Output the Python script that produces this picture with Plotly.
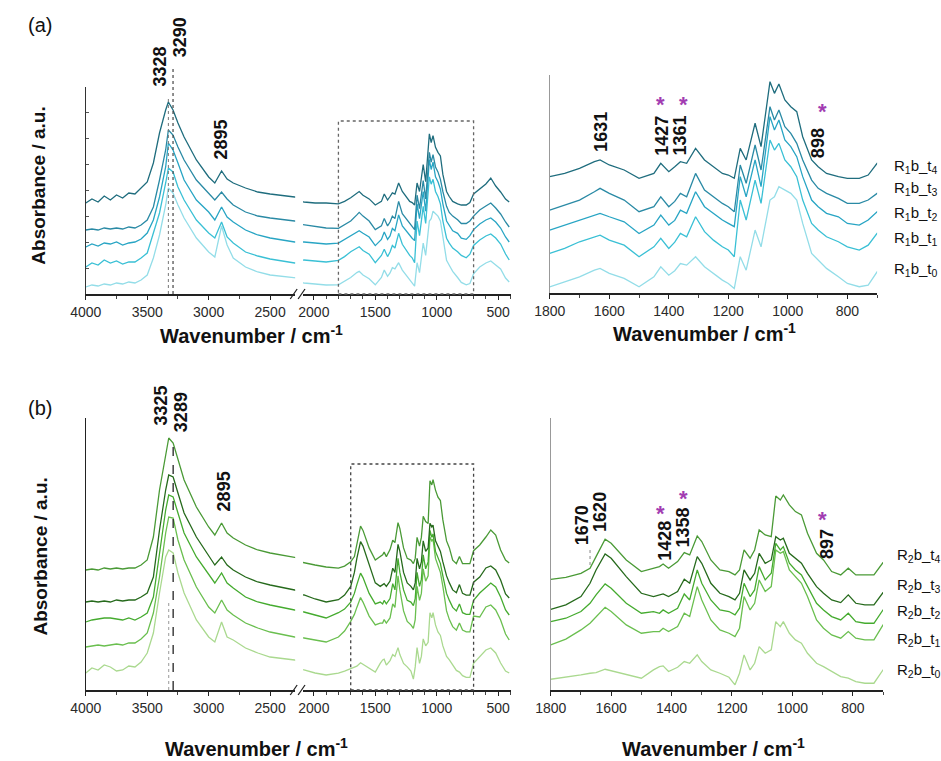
import plotly.graph_objects as go

W, H = 941, 761
FONT = "Liberation Sans, Arial, sans-serif"


def fx(p):
    return p / W


def fy(p):
    return 1 - p / H


# ---------------- wavenumber grids ----------------
WN_A_HI = [4000, 3950, 3900, 3850, 3800, 3750, 3700, 3650, 3600, 3550, 3500, 3450, 3400, 3350,
           3328, 3290, 3250, 3200, 3100, 3000, 2950, 2895, 2850, 2800, 2700, 2600, 2500, 2300,
           2080, 1990, 1900]
WN_B_HI = [4000, 3950, 3900, 3850, 3800, 3750, 3700, 3650, 3600, 3550, 3500, 3450, 3400, 3350,
           3325, 3289, 3250, 3200, 3100, 3000, 2950, 2895, 2850, 2800, 2700, 2600, 2500, 2300,
           2080, 1990, 1900]
WN_A_FP = [1800, 1750, 1700, 1650, 1631, 1600, 1550, 1500, 1450, 1427, 1400, 1380, 1361, 1340,
           1310, 1280, 1250, 1220, 1200, 1180, 1160, 1140, 1110, 1090, 1060, 1045, 1030, 1010,
           990, 970, 950, 920, 898, 870, 830, 800, 760, 730, 700]
WN_B_FP = [1800, 1750, 1700, 1670, 1650, 1620, 1600, 1550, 1500, 1460, 1440, 1428, 1410, 1380,
           1358, 1340, 1315, 1300, 1270, 1240, 1210, 1190, 1175, 1160, 1140, 1125, 1110, 1090,
           1070, 1055, 1040, 1030, 1010, 990, 970, 950, 920, 897, 870, 840, 815, 790, 760, 730, 700]
WN_TAIL = [650, 600, 560, 520, 480, 440, 410]

# ---------------- (a) R1b spectra (stacked, a.u.) ----------------
A_T4_HI = [91, 95, 92, 98, 94, 99, 96, 101, 100, 106, 112, 131, 161, 184, 192, 184, 171, 157, 134, 117,
           111, 123, 115, 111, 106, 102, 100, 97, 92, 91, 91]
A_T3_HI = [64, 65, 64, 66, 65, 66, 65, 67, 66, 69, 74, 87, 114, 144, 164, 159, 147, 134, 114, 101,
           94, 102, 95, 89, 82, 78, 76, 73, 69, 67, 66]
A_T2_HI = [47, 50, 48, 51, 50, 52, 49, 51, 52, 55, 61, 74, 97, 127, 151, 144, 131, 114, 94, 82,
           74, 87, 77, 72, 64, 59, 56, 52, 52, 51, 50]
A_T1_HI = [27, 31, 29, 34, 31, 33, 30, 32, 32, 36, 41, 61, 81, 111, 126, 122, 107, 94, 74, 61,
           56, 72, 57, 51, 42, 38, 35, 31, 34, 33, 32]
A_T0_HI = [7, 9, 8, 10, 9, 11, 10, 12, 11, 14, 19, 36, 59, 89, 106, 101, 89, 76, 56, 42,
           37, 68, 49, 36, 27, 22, 19, 16, 11, 10, 9]

A_T4_FP = [90.2, 92.6, 96.3, 101.2, 102.5, 98.8, 95.1, 89.0, 92.6, 100.0, 93.9, 97.5, 101.2, 100.0,
           111.0, 102.5, 97.5, 92.6, 91.4, 89.0, 111.0, 102.5, 129.5, 112.3, 160.1, 151.5, 158.4,
           146.6, 141.7, 138.0, 119.6, 102.5, 97.5, 92.6, 90.2, 89.0, 89.0, 91.4, 100.0]
A_T3_FP = [65.6, 69.3, 73.0, 79.1, 81.6, 77.9, 73.0, 64.4, 68.1, 75.4, 68.1, 72.0, 77.9, 75.4,
           92.6, 80.4, 75.4, 70.5, 68.1, 64.4, 98.8, 85.3, 113.5, 95.1, 141.7, 131.9, 139.3,
           127.0, 122.1, 114.7, 102.5, 87.7, 81.6, 77.9, 74.2, 70.5, 70.5, 73.0, 77.9]
A_T2_FP = [50.9, 54.6, 58.3, 61.9, 63.2, 60.7, 57.0, 48.4, 54.6, 61.9, 54.6, 58.0, 65.6, 63.2,
           79.1, 68.1, 63.2, 58.3, 55.8, 53.4, 90.2, 75.4, 102.5, 82.8, 134.4, 124.5, 131.9,
           117.2, 112.3, 104.9, 90.2, 73.0, 68.1, 63.2, 60.7, 55.8, 54.6, 58.3, 64.4]
A_T1_FP = [33.7, 37.4, 42.3, 46.0, 47.2, 43.5, 39.8, 31.3, 38.6, 44.8, 37.4, 42.0, 48.5, 46.0,
           60.7, 49.7, 43.5, 38.6, 36.2, 31.3, 73.0, 58.3, 87.7, 70.5, 117.2, 109.8, 114.7,
           102.5, 97.5, 90.2, 73.0, 55.8, 50.9, 46.0, 42.3, 38.6, 36.2, 39.8, 48.5]
A_T0_FP = [9.2, 12.8, 16.5, 21.4, 22.7, 19.0, 15.3, 9.2, 16.5, 23.9, 17.7, 21.0, 26.3, 25.1,
           31.3, 23.9, 19.0, 14.1, 11.6, 7.9, 31.3, 21.4, 50.9, 38.6, 73.0, 75.4, 82.8,
           80.4, 77.9, 73.0, 55.8, 33.7, 28.8, 22.7, 16.5, 11.6, 9.2, 10.4, 20.2]

A_T4_TAIL = [105, 110, 116, 108, 102, 95, 92]
A_T3_TAIL = [84, 88, 91, 86, 80, 72, 67]
A_T2_TAIL = [70, 74, 76, 72, 66, 57, 52]
A_T1_TAIL = [54, 58, 60, 56, 50, 40, 34]
A_T0_TAIL = [27, 31, 33, 29, 25, 16, 12]

# ---------------- (b) R2b spectra (stacked, a.u.) ----------------
B_T4_HI = [120, 121, 120, 122, 121, 122, 121, 122, 122, 125, 130, 153, 200, 237, 252, 247, 230, 210, 183, 163,
           155, 167, 157, 152, 145, 140, 137, 133, 127, 125, 123]
B_T3_HI = [88, 89, 88, 89, 88, 90, 89, 90, 90, 93, 97, 113, 160, 200, 215, 213, 197, 177, 153, 135,
           125, 133, 125, 120, 113, 108, 105, 100, 95, 91, 88]
B_T2_HI = [68, 70, 71, 72, 72, 71, 70, 72, 70, 73, 77, 93, 137, 180, 195, 193, 177, 157, 133, 115,
           107, 117, 107, 102, 93, 88, 85, 80, 78, 75, 72]
B_T1_HI = [43, 44, 45, 44, 45, 46, 45, 47, 47, 51, 57, 77, 113, 157, 173, 172, 150, 130, 103, 83,
           77, 90, 80, 75, 67, 62, 58, 53, 52, 50, 48]
B_T0_HI = [17, 22, 20, 25, 23, 19, 20, 24, 23, 28, 37, 57, 97, 133, 140, 137, 117, 97, 70, 53,
           48, 68, 53, 50, 42, 37, 33, 30, 20, 17, 15]

B_T4_FP = [121.8, 123.9, 128.1, 133.4, 145.6, 163.8, 159.6, 142.1, 129.9, 133.4, 135.1, 137.9, 133.4,
           140.4, 149.8, 147.4, 167.3, 161.4, 142.1, 131.6, 129.9, 126.4, 131.6, 152.6, 143.9, 152.6,
           173.6, 168.4, 166.6, 209.3, 205.1, 210.4, 199.9, 192.9, 189.4, 170.1, 149.1, 142.1, 129.9,
           126.4, 133.4, 126.4, 126.4, 126.4, 139.3]
B_T3_FP = [90.3, 94.9, 103.6, 117.6, 131.6, 148.4, 143.9, 124.6, 107.1, 103.6, 105.4, 106.4, 103.6,
           108.9, 121.8, 117.6, 145.6, 138.6, 117.6, 107.1, 103.6, 100.1, 107.1, 131.6, 121.1, 128.1,
           149.1, 138.6, 142.1, 166.6, 163.1, 164.9, 149.1, 143.9, 138.6, 128.1, 114.1, 107.1, 100.1,
           97.3, 105.4, 96.6, 94.9, 94.9, 107.8]
B_T2_FP = [77.3, 80.9, 87.9, 96.6, 105.4, 116.9, 112.4, 96.6, 86.1, 87.9, 86.1, 89.6, 86.1,
           91.4, 106.4, 100.1, 131.6, 117.6, 100.1, 89.6, 87.9, 84.4, 91.4, 117.6, 103.6, 110.6,
           135.1, 121.1, 128.1, 159.6, 152.6, 156.1, 138.6, 131.6, 126.4, 114.1, 96.6, 89.6, 82.6,
           79.1, 86.1, 77.3, 75.6, 75.6, 89.6]
B_T1_FP = [53.0, 59.0, 68.6, 75.6, 82.6, 92.4, 87.9, 73.9, 65.1, 66.9, 66.9, 70.4, 66.9,
           72.1, 86.1, 82.6, 114.1, 100.1, 79.1, 68.6, 65.1, 61.6, 70.4, 103.6, 89.6, 96.6,
           121.1, 108.9, 114.1, 152.6, 149.1, 150.9, 131.6, 124.6, 117.6, 103.6, 79.1, 70.4, 63.4,
           59.9, 66.9, 59.9, 58.1, 58.1, 73.9]
B_T0_FP = [16.8, 18.9, 21.4, 23.1, 23.8, 27.3, 25.6, 21.4, 17.9, 26.6, 30.1, 30.8, 24.9,
           29.4, 35.4, 33.6, 42.4, 35.4, 26.6, 23.1, 18.9, 10.9, 23.1, 42.4, 26.6, 33.6,
           51.1, 44.1, 47.6, 77.3, 72.1, 77.3, 65.1, 58.1, 54.6, 44.1, 33.6, 30.1, 24.9,
           19.6, 17.9, 14.4, 12.6, 12.6, 26.6]

B_T4_TAIL = [145, 153, 160, 155, 140, 130, 127]
B_T3_TAIL = [113, 122, 124, 120, 110, 96, 92]
B_T2_TAIL = [97, 103, 107, 103, 93, 80, 75]
B_T1_TAIL = [73, 83, 85, 80, 70, 56, 50]
B_T0_TAIL = [33, 40, 42, 37, 27, 19, 17]

SAMPLES = ["t4", "t3", "t2", "t1", "t0"]
A_COLORS = ["#1f6d7e", "#2a8aa5", "#28a5c4", "#3ac0d5", "#93dde8"]
B_COLORS = ["#4a9a36", "#266a1c", "#45ab2f", "#6abf4f", "#aad98f"]
A_LABELS = ["R<sub>1</sub>b_t<sub>4</sub>", "R<sub>1</sub>b_t<sub>3</sub>", "R<sub>1</sub>b_t<sub>2</sub>",
            "R<sub>1</sub>b_t<sub>1</sub>", "R<sub>1</sub>b_t<sub>0</sub>"]
B_LABELS = ["R<sub>2</sub>b_t<sub>4</sub>", "R<sub>2</sub>b_t<sub>3</sub>", "R<sub>2</sub>b_t<sub>2</sub>",
            "R<sub>2</sub>b_t<sub>1</sub>", "R<sub>2</sub>b_t<sub>0</sub>"]

A_SPECTRA = [(A_T4_HI, A_T4_FP, A_T4_TAIL), (A_T3_HI, A_T3_FP, A_T3_TAIL), (A_T2_HI, A_T2_FP, A_T2_TAIL),
             (A_T1_HI, A_T1_FP, A_T1_TAIL), (A_T0_HI, A_T0_FP, A_T0_TAIL)]
B_SPECTRA = [(B_T4_HI, B_T4_FP, B_T4_TAIL), (B_T3_HI, B_T3_FP, B_T3_TAIL), (B_T2_HI, B_T2_FP, B_T2_TAIL),
             (B_T1_HI, B_T1_FP, B_T1_TAIL), (B_T0_HI, B_T0_FP, B_T0_TAIL)]

for hi, fp, tail in A_SPECTRA:
    assert len(hi) == len(WN_A_HI) and len(fp) == len(WN_A_FP) and len(tail) == len(WN_TAIL)
for hi, fp, tail in B_SPECTRA:
    assert len(hi) == len(WN_B_HI) and len(fp) == len(WN_B_FP) and len(tail) == len(WN_TAIL)

fig = go.Figure()


def add_set(spectra, wn_hi, wn_fp, colors, axes):
    wn = wn_hi + wn_fp + WN_TAIL
    for (hi, fp, tail), col in zip(reversed(spectra), reversed(colors)):
        vals = hi + fp + tail
        for xa, ya in axes:
            fig.add_trace(go.Scatter(x=wn, y=vals, mode="lines",
                                     line=dict(color=col, width=1.3),
                                     xaxis=xa, yaxis=ya, showlegend=False, hoverinfo="skip"))


add_set(A_SPECTRA, WN_A_HI, WN_A_FP, A_COLORS, [("x", "y"), ("x2", "y"), ("x3", "y2")])
add_set(B_SPECTRA, WN_B_HI, WN_B_FP, B_COLORS, [("x4", "y3"), ("x5", "y3"), ("x6", "y4")])

tickfont = dict(size=14, color="#2a2a2a", family=FONT)


def xax(dom, rng, anchor, dtick, minor):
    return dict(domain=[fx(dom[0]), fx(dom[1])], range=rng, anchor=anchor, showgrid=False,
                zeroline=False, showline=True, linecolor="#222", linewidth=1.5,
                ticks="outside", ticklen=4, tickwidth=1.3, tickcolor="#222",
                tick0=0, dtick=dtick, tickfont=tickfont,
                minor=dict(ticks="outside", ticklen=3, dtick=minor, tickcolor="#444", tickwidth=1),
                fixedrange=True)


def yax(top, bot, rng, anchor, linecolor, ticks=""):
    return dict(domain=[fy(bot), fy(top)], range=rng, anchor=anchor, showgrid=False,
                zeroline=False, showline=True, linecolor=linecolor, linewidth=1.3,
                showticklabels=False, ticks=ticks, ticklen=3, tickcolor="#555", dtick=26,
                fixedrange=True)


fig.update_layout(
    width=W, height=H, margin=dict(l=0, r=0, t=0, b=0),
    paper_bgcolor="white", plot_bgcolor="white",
    font=dict(family=FONT, color="#111"),
    xaxis=xax((71, 284), [4000, 2296], "y", 500, 250),
    xaxis2=xax((292, 504), [2088, 392], "y", 500, 100),
    xaxis3=xax((543, 876), [1800, 700], "y2", 200, 100),
    xaxis4=xax((71, 284), [4000, 2296], "y3", 500, 250),
    xaxis5=xax((292, 504), [2088, 392], "y3", 500, 100),
    xaxis6=xax((544, 882), [1800, 700], "y4", 200, 100),
    yaxis=yax(87, 294, [0, 207], "x", "#333", "inside"),
    yaxis2=yax(75, 293, [4.6, 165], "x3", "#999"),
    yaxis3=yax(418, 690, [0, 272], "x4", "#222"),
    yaxis4=yax(418, 690, [5.5, 291.2], "x6", "#999"),
)

shapes = []
# axis break marks
for yb in (294, 690):
    for xb in (279, 287):
        shapes.append(dict(type="line", xref="paper", yref="paper",
                           x0=fx(xb), y0=fy(yb + 5), x1=fx(xb + 7), y1=fy(yb - 5),
                           line=dict(color="#222", width=1.3)))
# zoom boxes
shapes.append(dict(type="rect", xref="x2", yref="paper", x0=1800, x1=700, y0=fy(294), y1=fy(121),
                   line=dict(color="#666", width=1.3, dash="dot")))
shapes.append(dict(type="rect", xref="x5", yref="paper", x0=1700, x1=700, y0=fy(690), y1=fy(464),
                   line=dict(color="#444", width=1.3, dash="dot")))
# peak marker lines
shapes.append(dict(type="line", xref="x", yref="paper", x0=3328, x1=3328, y0=fy(294), y1=fy(97),
                   line=dict(color="#777", width=1, dash="dot")))
shapes.append(dict(type="line", xref="x", yref="paper", x0=3290, x1=3290, y0=fy(294), y1=fy(67),
                   line=dict(color="#444", width=1.2, dash="dot")))
shapes.append(dict(type="line", xref="x4", yref="paper", x0=3325, x1=3325, y0=fy(690), y1=fy(600),
                   line=dict(color="#999", width=1, dash="dot")))
shapes.append(dict(type="line", xref="x4", yref="paper", x0=3289, x1=3289, y0=fy(690), y1=fy(443),
                   line=dict(color="#222", width=1.3, dash="dash")))
shapes.append(dict(type="line", xref="x6", yref="paper", x0=1670, x1=1670, y0=fy(565), y1=fy(547),
                   line=dict(color="#888", width=1, dash="dot")))
fig.update_layout(shapes=shapes)

anns = []


def ann(text, x, y, size, angle=0, color="#111", bold=False, xanchor="center"):
    anns.append(dict(text=text, x=fx(x), y=fy(y), xref="paper", yref="paper", showarrow=False,
                     textangle=angle, xanchor=xanchor, yanchor="middle",
                     font=dict(size=size, color=color, family=FONT, weight="bold" if bold else "normal")))


# panel letters
ann("(a)", 24, 25, 20)
ann("(b)", 24, 408, 20)
# axis titles
ann("Absorbance / a.u.", 22, 186, 19, -90, bold=True)
ann("Absorbance / a.u.", 24, 557, 19, -90, bold=True)
for x, y in [(240, 335), (700, 332), (245, 747), (710, 747)]:
    ann("Wavenumber / cm<sup>-1</sup>", x, y, 20, bold=True)
# peak labels (a)
for t, x, y in [("3328", 146, 67), ("3290", 167, 37), ("2895", 209, 139),
                ("1631", 595, 132), ("1427", 657, 136), ("1361", 675, 136), ("898", 816, 143)]:
    ann(t, x, y, 18, -90, bold=True)
# peak labels (b)
for t, x, y in [("3325", 148, 405), ("3289", 168, 412), ("2895", 212, 491),
                ("1670", 576, 525), ("1620", 594, 512), ("1428", 660, 541), ("1358", 679, 527),
                ("897", 825, 544)]:
    ann(t, x, y, 18, -90, bold=True)
# asterisks
for x, y in [(656, 104), (679, 104), (820, 111), (656, 513), (679, 498), (820, 519)]:
    ann("*", x, y, 22, color="#a23cb2", bold=True)
# sample labels
for lab, y in zip(A_LABELS, [166, 188, 213, 238, 269]):
    ann(lab, 891, y, 15, xanchor="left")
for lab, y in zip(B_LABELS, [555, 585, 611, 639, 670]):
    ann(lab, 894, y, 15, xanchor="left")
fig.update_layout(annotations=anns)

fig.write_html("out.html",
               config={"displayModeBar": False},
               post_script="document.body.style.margin='0px';document.body.style.overflow='hidden';")
